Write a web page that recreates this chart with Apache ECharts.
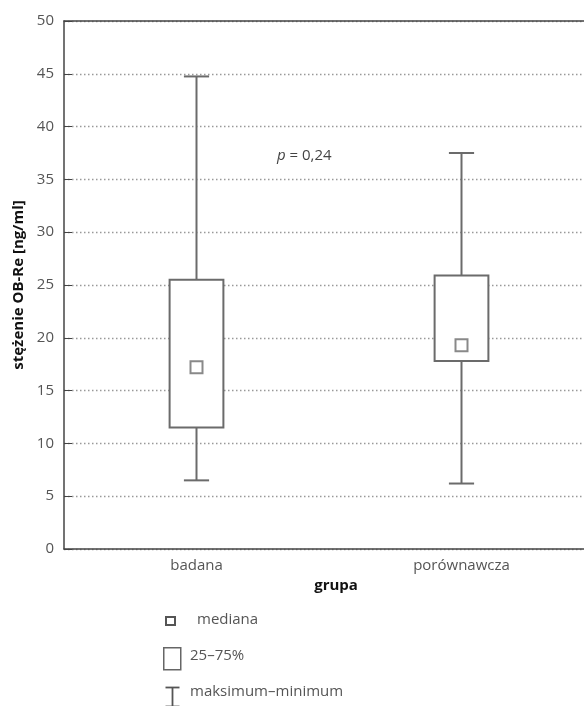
<!DOCTYPE html>
<html><head><meta charset="utf-8">
<script src="https://cdn.jsdelivr.net/npm/echarts@6/dist/echarts.min.js"></script>
<style>html,body{margin:0;padding:0;background:#fff;overflow:hidden}#c{width:584px;height:706px}</style>
</head><body><div id="c"></div>
<script>
var categories = ['badana', 'porównawcza'];
var minValues = [6.5, 6.2];
var q1Values = [11.5, 17.8];
var medianValues = [17.2, 19.3];
var q3Values = [25.5, 25.9];
var maxValues = [44.75, 37.5];
var yTicks = [0, 5, 10, 15, 20, 25, 30, 35, 40, 45, 50];

var FONT = '"Open Sans", "Noto Sans", sans-serif';
var LINE = '#6b6b6b';
var boxData = categories.map(function (c, i) {
  return [i, minValues[i], q1Values[i], q3Values[i], maxValues[i]];
});

var chart = echarts.init(document.getElementById('c'), null, {renderer: 'canvas'});
chart.setOption({
  animation: false,
  grid: {left: 64, top: 21, width: 530, height: 528, outerBoundsMode: 'none', containLabel: false},
  xAxis: [{
    type: 'category', data: categories, position: 'bottom',
    name: 'grupa', nameLocation: 'middle', nameGap: 29,
    nameTextStyle: {fontFamily: FONT, fontSize: 15, fontWeight: 'bold', color: '#111', padding: [0, 0, 0, 14]},
    axisLine: {lineStyle: {color: '#444', width: 1.5}},
    axisTick: {inside: true, alignWithLabel: true, length: 6, lineStyle: {color: '#444'}},
    axisLabel: {fontFamily: FONT, fontSize: 15, color: '#555', margin: 9},
    splitLine: {show: false}
  }, {
    type: 'category', data: categories, position: 'top',
    axisLine: {lineStyle: {color: '#444', width: 1.5}},
    axisTick: {inside: true, alignWithLabel: true, length: 6, lineStyle: {color: '#444'}},
    axisLabel: {show: false}
  }],
  yAxis: {
    type: 'value', min: 0, max: 50, interval: 5,
    name: 'stężenie OB-Re [ng/ml]', nameLocation: 'middle', nameGap: 37,
    nameTextStyle: {fontFamily: FONT, fontSize: 15, fontWeight: 'bold', color: '#111'},
    axisLine: {show: true, lineStyle: {color: '#444', width: 1.5}},
    axisTick: {show: true, inside: true, length: 8, lineStyle: {color: '#444'}},
    axisLabel: {fontFamily: FONT, fontSize: 15, color: '#555', margin: 10,
      formatter: function (v) { return yTicks.indexOf(v) >= 0 ? String(v) : ''; }},
    splitLine: {show: true, lineStyle: {color: '#999', type: [1.5, 2.5], width: 1.3}}
  },
  series: [{
    type: 'custom',
    data: boxData,
    encode: {x: 0, y: [1, 2, 3, 4]},
    z: 3,
    renderItem: function (params, api) {
      var xi = api.value(0);
      var pMin = api.coord([xi, api.value(1)]);
      var pQ1 = api.coord([xi, api.value(2)]);
      var pQ3 = api.coord([xi, api.value(3)]);
      var pMax = api.coord([xi, api.value(4)]);
      var bw = api.size([1, 0])[0] * 0.203;
      var cw = api.size([1, 0])[0] * 0.095;
      var x = pQ1[0];
      var st = {stroke: LINE, lineWidth: 2, fill: null};
      return {type: 'group', children: [
        {type: 'line', shape: {x1: x, y1: pQ3[1], x2: x, y2: pMax[1]}, style: st},
        {type: 'line', shape: {x1: x, y1: pQ1[1], x2: x, y2: pMin[1]}, style: st},
        {type: 'line', shape: {x1: x - cw / 2, y1: pMax[1], x2: x + cw / 2, y2: pMax[1]}, style: st},
        {type: 'line', shape: {x1: x - cw / 2, y1: pMin[1], x2: x + cw / 2, y2: pMin[1]}, style: st},
        {type: 'rect', shape: {x: x - bw / 2, y: pQ3[1], width: bw, height: pQ1[1] - pQ3[1]},
          style: {stroke: LINE, lineWidth: 2, fill: '#fff'}}
      ]};
    }
  }, {
    type: 'scatter',
    data: categories.map(function (c, i) { return [i, medianValues[i]]; }),
    symbol: 'rect', symbolSize: 12, z: 5,
    itemStyle: {color: '#fff', borderColor: LINE, borderWidth: 2}
  }],
  graphic: [
    {type: 'text', left: 277, top: 148, z: 10, style: {
      text: '{i|p} = 0,24', font: '15px ' + FONT, fill: '#444',
      rich: {i: {fontStyle: 'italic', fontFamily: FONT, fontSize: 15, fill: '#444'}}}},
    {type: 'rect', left: 165, top: 616, shape: {width: 9, height: 8},
      style: {fill: '#fff', stroke: '#555', lineWidth: 2}},
    {type: 'text', left: 197, top: 612, style: {text: 'mediana', font: '15px ' + FONT, fill: '#555'}},
    {type: 'rect', left: 163, top: 647, shape: {width: 17, height: 22},
      style: {fill: '#fff', stroke: '#666', lineWidth: 1.5}},
    {type: 'text', left: 190, top: 648, style: {text: '25–75%', font: '15px ' + FONT, fill: '#555'}},
    {type: 'group', left: 163, top: 685, children: [
      {type: 'line', shape: {x1: 0, y1: 1, x2: 14, y2: 1}, style: {stroke: '#555', lineWidth: 1.8}},
      {type: 'line', shape: {x1: 7, y1: 1, x2: 7, y2: 20}, style: {stroke: '#555', lineWidth: 1.8}},
      {type: 'line', shape: {x1: 0, y1: 20, x2: 14, y2: 20}, style: {stroke: '#555', lineWidth: 1.8}}
    ]},
    {type: 'text', left: 190, top: 684, style: {text: 'maksimum–minimum', font: '15px ' + FONT, fill: '#555'}}
  ]
});
</script></body></html>
